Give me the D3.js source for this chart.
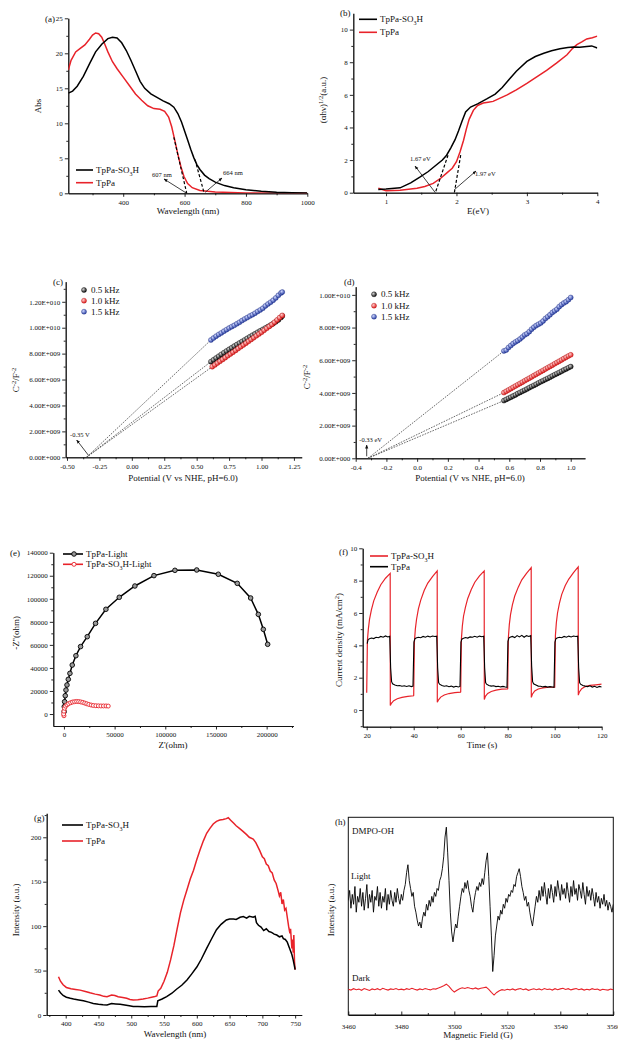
<!DOCTYPE html>
<html>
<head>
<meta charset="utf-8">
<script src="https://d3js.org/d3.v7.min.js"></script>
<style>
  body, html { margin: 0; padding: 0; background: #fff; }
  text { font-family: "Liberation Serif", "DejaVu Serif", serif; fill: #111; }
  .tick text { font-size: 7px; }
  .axis path, .axis line { stroke: #111; stroke-width: 0.9px; }
  .title { font-size: 9px; }
  .leg { font-size: 9px; }
  .note { font-size: 6.5px; }
</style>
</head>
<body>
<div id="chart"></div>
<script>
// ---------- data ----------
// (a) UV-vis absorbance [wavelength nm, Abs]
const aSO3H = [[221,14.3],[235,14.6],[250,15.3],[270,16.7],[290,18.5],[310,20.2],[330,21.3],[350,22.1],[365,22.3],[380,22.2],[395,21.5],[410,20.4],[425,19.0],[440,17.5],[455,16.0],[470,15.0],[490,14.2],[510,13.7],[530,13.2],[550,12.8],[565,12.3],[578,11.4],[590,10.2],[600,8.9],[610,7.6],[620,6.3],[630,5.1],[640,4.1],[650,3.4],[665,2.6],[680,2.1],[700,1.6],[730,1.1],[760,0.8],[800,0.5],[850,0.3],[900,0.15],[950,0.08],[1000,0.05]];
const aTpPa = [[221,17.6],[230,19.0],[245,20.2],[260,20.7],[275,21.2],[290,22.0],[300,22.6],[310,22.9],[320,22.8],[330,22.3],[340,21.3],[350,20.2],[365,18.8],[380,17.8],[400,16.6],[420,15.4],[440,14.2],[460,13.3],[480,12.5],[500,12.1],[520,12.0],[535,11.7],[548,10.9],[558,9.5],[568,7.6],[578,5.6],[588,3.8],[598,2.4],[610,1.4],[625,0.8],[650,0.4],[700,0.2],[800,0.05],[1000,0.0]];
const aTangentTpPa = [[565,8.0],[607,0]];
const aTangentSO3H = [[634,4.8],[664,0]];

// (b) Tauc plot [E eV, (ahv)^1/2]
const bSO3H = [[0.89,0.2],[1.0,0.22],[1.2,0.3],[1.35,0.6],[1.48,0.95],[1.6,1.3],[1.7,1.65],[1.8,2.0],[1.86,2.3],[1.92,2.75],[1.98,3.25],[2.03,3.8],[2.08,4.4],[2.13,4.95],[2.2,5.25],[2.3,5.45],[2.43,5.75],[2.55,6.05],[2.65,6.45],[2.75,6.95],[2.85,7.45],[3.0,8.05],[3.12,8.35],[3.24,8.55],[3.35,8.7],[3.47,8.82],[3.58,8.9],[3.66,8.93],[3.75,8.92],[3.85,8.97],[3.92,9.0],[4.0,8.87]];
const bTpPa = [[0.89,0.27],[1.0,0.12],[1.2,0.15],[1.44,0.27],[1.55,0.38],[1.67,0.57],[1.78,0.9],[1.86,1.2],[1.94,1.5],[2.0,1.9],[2.05,2.5],[2.1,3.2],[2.14,3.9],[2.18,4.5],[2.24,5.05],[2.3,5.35],[2.38,5.5],[2.45,5.55],[2.52,5.6],[2.62,5.8],[2.72,6.0],[2.85,6.3],[3.0,6.7],[3.14,7.1],[3.28,7.5],[3.42,7.95],[3.57,8.46],[3.65,8.85],[3.71,9.08],[3.78,9.25],[3.85,9.43],[3.93,9.5],[4.0,9.6]];
const bTangentSO3H = [[1.88,2.3],[1.70,0]];
const bTangentTpPa = [[2.06,2.3],[1.97,0]];

// (c) Mott-Schottky TpPa-SO3H [V vs NHE, C^-2 in 1e9]
const c05 = [[0.61,7.38],[0.63,7.52],[0.65,7.66],[0.67,7.80],[0.69,7.94],[0.71,8.07],[0.73,8.20],[0.75,8.33],[0.77,8.45],[0.79,8.58],[0.81,8.70],[0.83,8.82],[0.85,8.94],[0.87,9.06],[0.89,9.18],[0.91,9.30],[0.93,9.42],[0.95,9.53],[0.97,9.65],[0.99,9.76],[1.01,9.87],[1.03,9.98],[1.05,10.09],[1.07,10.2],[1.09,10.32],[1.11,10.45],[1.13,10.6],[1.15,10.78],[1.16,10.9]];
const c10 = [[0.62,6.99],[0.64,7.13],[0.66,7.27],[0.68,7.41],[0.70,7.55],[0.72,7.69],[0.74,7.83],[0.76,7.97],[0.78,8.11],[0.80,8.25],[0.82,8.39],[0.84,8.53],[0.86,8.67],[0.88,8.81],[0.90,8.95],[0.92,9.09],[0.94,9.23],[0.96,9.37],[0.98,9.51],[1.00,9.65],[1.02,9.80],[1.04,9.95],[1.06,10.1],[1.08,10.25],[1.10,10.42],[1.12,10.6],[1.14,10.78],[1.16,10.95]];
const c15 = [[0.61,9.05],[0.63,9.2],[0.65,9.35],[0.67,9.48],[0.69,9.6],[0.71,9.73],[0.73,9.85],[0.75,9.97],[0.77,10.08],[0.79,10.18],[0.81,10.3],[0.83,10.42],[0.85,10.55],[0.87,10.67],[0.89,10.78],[0.91,10.9],[0.93,11.0],[0.95,11.12],[0.97,11.25],[0.99,11.37],[1.01,11.5],[1.03,11.68],[1.05,11.83],[1.07,11.97],[1.09,12.12],[1.11,12.3],[1.13,12.5],[1.15,12.68],[1.16,12.75]];
const cIntercept = -0.35;

// (d) Mott-Schottky TpPa
const d05 = [[0.565,3.53],[0.58,3.60],[0.595,3.67],[0.61,3.74],[0.625,3.81],[0.64,3.88],[0.655,3.96],[0.67,4.03],[0.685,4.10],[0.70,4.17],[0.715,4.24],[0.73,4.32],[0.745,4.39],[0.76,4.46],[0.775,4.53],[0.79,4.61],[0.805,4.68],[0.82,4.75],[0.835,4.82],[0.85,4.89],[0.865,4.96],[0.88,5.04],[0.895,5.11],[0.91,5.18],[0.925,5.25],[0.94,5.32],[0.955,5.40],[0.97,5.47],[0.985,5.54],[1.0,5.61]];
const d10 = [[0.565,4.02],[0.58,4.10],[0.595,4.18],[0.61,4.26],[0.625,4.34],[0.64,4.42],[0.655,4.50],[0.67,4.58],[0.685,4.66],[0.70,4.74],[0.715,4.82],[0.73,4.90],[0.745,4.98],[0.76,5.06],[0.775,5.14],[0.79,5.22],[0.805,5.30],[0.82,5.38],[0.835,5.46],[0.85,5.54],[0.865,5.62],[0.88,5.70],[0.895,5.78],[0.91,5.86],[0.925,5.94],[0.94,6.02],[0.955,6.10],[0.97,6.18],[0.985,6.26],[1.0,6.33]];
const d15 = [[0.565,6.57],[0.58,6.62],[0.595,6.78],[0.61,6.90],[0.625,7.02],[0.64,7.12],[0.655,7.20],[0.67,7.30],[0.685,7.42],[0.70,7.55],[0.715,7.62],[0.73,7.75],[0.745,7.90],[0.76,8.02],[0.775,8.12],[0.79,8.20],[0.805,8.28],[0.82,8.40],[0.835,8.55],[0.85,8.66],[0.865,8.78],[0.88,8.92],[0.895,9.02],[0.91,9.12],[0.925,9.28],[0.94,9.40],[0.955,9.50],[0.97,9.58],[0.985,9.70],[1.0,9.84]];
const dIntercept = -0.32;

// (e) Nyquist [Z' ohm, -Z'' ohm]
const eTpPa = [[200,2000],[330,6400],[660,10700],[1300,15900],[2000,20800],[3000,25200],[4300,30100],[5900,35300],[8200,42500],[11800,50600],[16400,58500],[23000,67100],[31200,78700],[41400,90900],[54600,101300],[70000,111100],[88800,120100],[109500,124700],[131000,125000],[152300,121300],[171000,113400],[184200,100700],[191800,86500],[196700,73500],[201000,60500]];
const eSO3H = [[0,-1500],[-300,0],[0,2500],[600,5000],[1600,6800],[3000,8000],[4600,9000],[6600,9800],[8500,10400],[10500,10700],[12500,10900],[14500,10800],[16500,10500],[18500,10100],[20500,9500],[22500,8900],[24500,8300],[26800,7800],[29000,7400],[31500,7200],[34000,7100],[36500,7000],[39000,7000],[41500,7000],[43700,6900]];

// (f) photocurrent [time s, mA/cm2]
const fSO3H = [[20,1.07],[20.3,4.3],[20.7,5.0],[21.2,5.6],[22,6.2],[23,6.75],[24.5,7.3],[26,7.75],[28,8.15],[30,8.45],
  [30.05,0.28],[30.5,0.42],[31.5,0.58],[33,0.7],[35,0.78],[37.5,0.84],[39.95,0.88],
  [40,0.9],[40.3,4.2],[40.7,5.0],[41.2,5.6],[42,6.25],[43,6.8],[44.5,7.4],[46,7.85],[48,8.25],[50,8.6],
  [50.05,0.48],[50.5,0.62],[51.5,0.8],[53,0.93],[55,1.02],[57.5,1.08],[59.95,1.11],
  [60,1.12],[60.3,4.4],[60.7,5.2],[61.2,5.8],[62,6.35],[63,6.9],[64.5,7.45],[66,7.9],[68,8.3],[70,8.6],
  [70.05,0.65],[70.5,0.85],[71.5,1.03],[73,1.15],[75,1.23],[77.5,1.29],[79.95,1.31],
  [80,1.32],[80.3,4.5],[80.7,5.3],[81.2,5.9],[82,6.5],[83,7.05],[84.5,7.6],[86,8.05],[88,8.45],[90,8.8],
  [90.05,0.78],[90.5,0.98],[91.5,1.18],[93,1.3],[95,1.37],[97.5,1.41],[99.95,1.42],
  [100,1.42],[100.3,4.6],[100.7,5.4],[101.2,6.0],[102,6.6],[103,7.15],[104.5,7.7],[106,8.1],[108,8.5],[110,8.85],
  [110.05,0.92],[110.5,1.12],[111.5,1.32],[113,1.45],[115,1.52],[117.5,1.56],[120,1.6]];
const fTpPa = [[20.2,4.1],[20.6,4.35],[21,4.4],[22,4.45],[23,4.42],[24,4.5],[25,4.47],[26,4.55],[27,4.5],[28,4.58],[29,4.52],[29.8,4.56],[30.2,2.6],[30.6,1.75],[31,1.62],[32,1.55],[33,1.5],[34,1.52],[35,1.47],[36,1.5],[37,1.46],[38,1.5],[39,1.45],[39.7,1.48],
  [40.1,4.2],[40.5,4.4],[41,4.45],[42,4.5],[43,4.47],[44,4.55],[45,4.5],[46,4.57],[47,4.52],[48,4.58],[49,4.55],[49.8,4.57],[50.2,2.6],[50.6,1.7],[51,1.6],[52,1.52],[53,1.47],[54,1.5],[55,1.44],[56,1.48],[57,1.42],[58,1.47],[59,1.43],[59.7,1.46],
  [60.1,4.2],[60.5,4.38],[61,4.42],[62,4.48],[63,4.45],[64,4.52],[65,4.5],[66,4.56],[67,4.5],[68,4.57],[69,4.53],[69.8,4.56],[70.2,2.6],[70.6,1.7],[71,1.6],[72,1.52],[73,1.48],[74,1.5],[75,1.45],[76,1.47],[77,1.43],[78,1.46],[79,1.42],[79.7,1.4],
  [80.1,4.25],[80.5,4.45],[81,4.5],[82,4.55],[83,4.48],[84,4.6],[85,4.52],[86,4.62],[87,4.5],[88,4.6],[89,4.55],[89.8,4.6],[90.2,2.7],[90.6,1.75],[91,1.62],[92,1.55],[93,1.48],[94,1.47],[95,1.43],[96,1.46],[97,1.42],[98,1.45],[99,1.42],[99.7,1.4],
  [100.1,4.2],[100.5,4.4],[101,4.45],[102,4.5],[103,4.47],[104,4.55],[105,4.5],[106,4.57],[107,4.52],[108,4.58],[109,4.55],[109.8,4.57],[110.2,2.6],[110.6,1.7],[111,1.6],[112,1.52],[113,1.48],[114,1.45],[115,1.5],[116,1.42],[117,1.47],[118,1.4],[119,1.46],[120,1.42]];

// (g) PL spectra [wavelength nm, intensity]
const gTpPa = [[389,43],[392,38],[396,34],[401,31],[408,29.5],[415,28.8],[422,28],[430,26.5],[437,25],[445,23.5],[452,22.5],[458,21],[463,20.6],[470,22.5],[475,22],[480,20.5],[487,19.8],[493,18.8],[498,17.5],[503,16.9],[510,17.2],[518,18],[525,19],[531,20],[536,20.8],[539,21.4],[541,27],[545,30],[550,38],[555,48],[560,62],[565,78],[570,97],[575,115],[580,129],[585,141],[590,153],[595,163],[600,175],[605,186],[610,196],[615,204.5],[620,210],[625,215],[630,218],[635,219.5],[640,220],[645,221],[648,222],[652,219],[656,216],[660,213],[665,210],[670,207],[676,203],[680,200],[686,198],[690,194],[696,185],[700,178],[703,176],[706,170],[709,168],[712,162],[715,160],[718,152],[721,148],[724,140],[726,134],[728,138],[730,125],[732,130],[734,118],[736,120],[738,110],[740,100],[742,92],[743,97],[745,75],[746,85],[747,70],[748,90],[749,60],[750,51]];
const gSO3H = [[389,28],[392,25],[396,22],[401,20],[407,18.8],[412,18],[420,17],[427,16],[435,14.5],[442,13],[450,12],[457,11.5],[463,11.3],[470,13],[476,12.5],[483,12],[490,11.2],[497,10.5],[503,9.6],[510,9.5],[520,9.4],[530,9.5],[539,9.6],[540.5,16],[547,18],[554,20.6],[562,24.5],[569,29],[577,33.5],[585,39.4],[592,46],[600,54],[607,63],[615,75],[622,85],[630,96],[637,102],[645,107],[650,108],[656,108],[660,107.5],[666,110],[671,110.7],[676,109],[680,111],[686,110],[689,111],[691,104],[694,101],[698,99],[702,95],[706,97],[710,94],[714,93],[718,91],[722,90],[726,88],[730,89],[732,86],[735,85],[738,82],[741,76],[743,72],[745,68],[747,62],[750,51]];

// (h) EPR DMPO-OH, sampled from 3460 G every 0.5 G (light) and every 1 G (dark)
const hFieldStart = 3460;
const hLightStep = 0.5;
const hLight = [58,63,54,61,56,65,52,60,57,64,55,62,53,59,66,54,61,57,63,52,60,58,65,55,62,54,60,57,64,53,61,56,63,58,55,62,57,64,59,56,61,58,63,
  66,72,76,68,64,60,62,55,52,48,45,47,44,49,52,50,56,53,58,55,60,57,62,60,64,63,68,70,74,80,
  90,95,82,68,52,42,37,42,46,44,50,55,60,64,62,67,64,68,63,60,55,52,58,62,65,63,67,65,69,66,
  72,78,82,70,55,40,22,30,40,45,50,48,53,51,56,54,59,57,61,60,63,62,66,65,70,72,74,70,65,62,
  58,60,55,57,52,48,45,50,55,60,57,
  63,58,65,60,67,61,56,64,59,66,62,57,65,60,68,63,58,66,61,64,59,67,62,57,65,60,68,61,64,58,66,63,59,67,61,56,65,60,63,58,64,60,55,62,57,60,54,59,56,61,55,58,53,57,55,52,56];
const hDarkStep = 1;
const hDark = [13,12.6,13.3,12.8,13.1,12.5,13.4,12.9,12.4,13.2,12.8,13.3,12.7,13.5,13,12.6,13.2,12.9,13.4,12.8,
  13.1,12.7,13.3,12.9,13.5,13,12.6,13.2,12.8,13.4,13,12.7,13.3,13.1,13.6,14.2,14.8,15.6,14.5,12.8,
  11.6,12.5,13.3,13.8,13.4,13.9,13.5,13.2,13.7,13.1,13.5,13.8,14.1,13,11.5,10.1,11.4,12.3,12.8,12.5,
  13,12.7,13.2,12.6,13.1,13.4,12.8,13.2,12.5,12.9,13.3,12.8,13.2,12.7,13.4,12.9,13.1,12.6,13.3,12.8,
  13.2,13.5,12.9,13.3,12.7,13.1,13.4,12.8,13.2,12.6,13,12.7,13.3,12.9,13.1,12.5,13,12.8,12.6,13.1,12.8];

// ---------- drawing ----------
const RED = "#e8232a", BLUE = "#3b4fb0";
const svg = d3.select("#chart").append("svg").attr("width", 618).attr("height", 1042);
svg.append("rect").attr("width", 618).attr("height", 1042).attr("fill", "#fff");
const defs = svg.append("defs");

function sphere(id, light, dark) {
  const gr = defs.append("radialGradient").attr("id", id).attr("cx", "35%").attr("cy", "35%").attr("r", "65%");
  gr.append("stop").attr("offset", "0%").attr("stop-color", light);
  gr.append("stop").attr("offset", "100%").attr("stop-color", dark);
}
sphere("sBlack", "#d8d8d8", "#111");
sphere("sRed", "#ffd0d0", "#e02020");
sphere("sBlue", "#d0d8ff", "#2f45a8");

defs.append("marker").attr("id", "arrow").attr("viewBox", "0 0 10 10").attr("refX", 9).attr("refY", 5)
  .attr("markerWidth", 5).attr("markerHeight", 5).attr("orient", "auto-start-reverse")
  .append("path").attr("d", "M0,1L10,5L0,9Z").attr("fill", "#111");

let clipN = 0;
function panel(o) {
  const x = d3.scaleLinear().domain(o.xDomain).range(o.xRange);
  const y = d3.scaleLinear().domain(o.yDomain).range(o.yRange);
  const g = svg.append("g");
  const inward = o.inward ? -1 : 1;
  const x0 = o.xRange[0], y0 = o.yRange[0];
  if (o.box) {
    g.append("rect").attr("x", x0).attr("y", o.yRange[1]).attr("width", o.xRange[1] - x0)
      .attr("height", y0 - o.yRange[1]).attr("fill", "none").attr("stroke", "#111").attr("stroke-width", 1);
  }
  const xa = g.append("g").attr("class", "axis").attr("transform", `translate(0,${y0})`);
  xa.call(d3.axisBottom(x).tickValues(o.xMinor).tickSize(2 * inward).tickFormat("").tickSizeOuter(0));
  xa.append("g").call(d3.axisBottom(x).tickValues(o.xTicks).tickSize(3.5 * inward).tickPadding(o.inward ? 9 : 3)
    .tickFormat(o.xFmt || (d => d)).tickSizeOuter(0));
  if (o.yTicks) {
    const ya = g.append("g").attr("class", "axis").attr("transform", `translate(${x0},0)`);
    ya.call(d3.axisLeft(y).tickValues(o.yMinor).tickSize(2).tickFormat("").tickSizeOuter(0));
    ya.append("g").call(d3.axisLeft(y).tickValues(o.yTicks).tickSize(3.5).tickPadding(2)
      .tickFormat(o.yFmt || (d => d)).tickSizeOuter(0));
  }
  g.selectAll(".axis .domain").attr("stroke", "#111");
  const id = "clip" + (clipN++);
  defs.append("clipPath").attr("id", id).append("rect")
    .attr("x", x0).attr("y", o.yRange[1]).attr("width", o.xRange[1] - x0).attr("height", y0 - o.yRange[1]);
  const plot = g.append("g").attr("clip-path", `url(#${id})`);
  return { x, y, g, plot };
}

function lineOf(p) { return d3.line().x(d => p.x(d[0])).y(d => p.y(d[1])); }
function text(x, y, str, cls, anchor) {
  return svg.append("text").attr("x", x).attr("y", y).attr("class", cls || "title")
    .attr("text-anchor", anchor || "start").text(str);
}
function so3h(t, pre, post) {
  t.text(null);
  t.append("tspan").text(pre + "SO");
  t.append("tspan").attr("dy", 2.5).attr("font-size", "6px").text("3");
  t.append("tspan").attr("dy", -2.5).text("H" + (post || ""));
  return t;
}
// parts: [text, dy, small]
function ylabel(x, y, parts) {
  const t = svg.append("text").attr("class", "title").attr("text-anchor", "middle")
    .attr("transform", `translate(${x},${y}) rotate(-90)`);
  parts.forEach(p => {
    const s = t.append("tspan").text(p[0]);
    if (p[1]) s.attr("dy", p[1]);
    if (p[2]) s.attr("font-size", "6.5px");
  });
  return t;
}
function arrow(x1, y1, x2, y2) {
  svg.append("line").attr("x1", x1).attr("y1", y1).attr("x2", x2).attr("y2", y2)
    .attr("stroke", "#111").attr("stroke-width", 0.8).attr("marker-end", "url(#arrow)");
}
function legLine(x1, x2, y, color, str, sub) {
  svg.append("line").attr("x1", x1).attr("x2", x2).attr("y1", y).attr("y2", y)
    .attr("stroke", color).attr("stroke-width", 1.6);
  const t = text(x2 + 3, y + 3, str, "leg");
  if (sub) so3h(t, sub[0], sub[1]);
}

// ----- (a) -----
const pa = panel({ xDomain: [221, 1000], xRange: [68.3, 307.3], yDomain: [0, 25], yRange: [193.3, 18.3],
  xTicks: [400, 600, 800, 1000], xMinor: [300, 500, 700, 900],
  yTicks: [0, 5, 10, 15, 20, 25], yMinor: [2.5, 7.5, 12.5, 17.5, 22.5] });
pa.plot.append("path").attr("d", lineOf(pa)(aTpPa)).attr("fill", "none").attr("stroke", RED).attr("stroke-width", 1.5);
pa.plot.append("path").attr("d", lineOf(pa)(aSO3H)).attr("fill", "none").attr("stroke", "#000").attr("stroke-width", 1.5);
[aTangentTpPa, aTangentSO3H].forEach(t => pa.plot.append("path").attr("d", lineOf(pa)(t))
  .attr("fill", "none").attr("stroke", "#000").attr("stroke-width", 1.2).attr("stroke-dasharray", "3,2"));
text(45, 22, "(a)");
ylabel(41, 106, [["Abs"]]);
text(188, 214, "Wavelength (nm)", "title", "middle");
legLine(76, 93, 170, "#000", "", ["TpPa-", ""]);
legLine(76, 93, 182.7, RED, "TpPa");
text(152, 177, "607 nm", "note");
arrow(pa.x(607), pa.y(0), 164, 179);
text(223, 175, "664 nm", "note");
arrow(pa.x(664) + 1, pa.y(0) - 1, 222, 178);

// ----- (b) -----
const pb = panel({ xDomain: [0.535, 4], xRange: [353.3, 597.3], yDomain: [0, 11], yRange: [192.7, 13.3],
  xTicks: [1, 2, 3, 4], xMinor: [1.5, 2.5, 3.5],
  yTicks: [0, 2, 4, 6, 8, 10], yMinor: [1, 3, 5, 7, 9] });
pb.plot.append("path").attr("d", lineOf(pb)(bTpPa)).attr("fill", "none").attr("stroke", RED).attr("stroke-width", 1.5);
pb.plot.append("path").attr("d", lineOf(pb)(bSO3H)).attr("fill", "none").attr("stroke", "#000").attr("stroke-width", 1.5);
[bTangentSO3H, bTangentTpPa].forEach(t => pb.plot.append("path").attr("d", lineOf(pb)(t))
  .attr("fill", "none").attr("stroke", "#000").attr("stroke-width", 1.2).attr("stroke-dasharray", "3,2"));
text(340, 16, "(b)");
ylabel(326, 100, [["(αhν)"], ["1/2", -3, true], ["(a.u.)", 3]]);
text(478, 214, "E(eV)", "title", "middle");
legLine(359, 377, 19.3, "#000", "", ["TpPa-", ""]);
legLine(359, 377, 32.3, RED, "TpPa");
text(410, 160.7, "1.67 eV", "note");
arrow(pb.x(1.70), pb.y(0), 415, 166);
text(475, 175.7, "1.97 eV", "note");
arrow(pb.x(1.97), pb.y(0) - 3, 476, 171);

// ----- (c) & (d) Mott-Schottky -----
function sci(v) {
  if (v === 0) return "0.00E+000";
  const n = v * 1e9, e = Math.floor(Math.log10(n) + 1e-9);
  return (n / Math.pow(10, e)).toFixed(2) + "E+" + String(e).padStart(3, "0");
}
function mott(p, series, intercept) {
  series.forEach(s => p.plot.append("line")
    .attr("x1", p.x(intercept)).attr("y1", p.y(0)).attr("x2", p.x(s.data[0][0])).attr("y2", p.y(s.data[0][1]))
    .attr("stroke", "#444").attr("stroke-width", 0.8).attr("stroke-dasharray", "1.6,1.2"));
  series.forEach(s => p.plot.append("g").selectAll("circle").data(s.data).join("circle")
    .attr("cx", d => p.x(d[0])).attr("cy", d => p.y(d[1])).attr("r", 2.5)
    .attr("fill", s.fill).attr("stroke", s.stroke).attr("stroke-width", 0.4));
}
const kHzLabels = ["0.5 kHz", "1.0 kHz", "1.5 kHz"];
const sphereFill = ["url(#sBlack)", "url(#sRed)", "url(#sBlue)"];
const sphereStroke = ["#000", "#b01010", "#203080"];
const msLabel = [["C"], ["-2", -3, true], ["/F", 3], ["-2", -3, true]];

const pc = panel({ xDomain: [-0.51, 1.31], xRange: [65.7, 301.7], yDomain: [0, 13.55], yRange: [457.3, 281.7],
  xTicks: [-0.5, -0.25, 0, 0.25, 0.5, 0.75, 1, 1.25], xMinor: [-0.375, -0.125, 0.125, 0.375, 0.625, 0.875, 1.125],
  yTicks: [0, 2, 4, 6, 8, 10, 12], yMinor: [1, 3, 5, 7, 9, 11, 13], xFmt: d => d.toFixed(2), yFmt: sci });
mott(pc, [c05, c10, c15].map((d, i) => ({ data: d, fill: sphereFill[i], stroke: sphereStroke[i] })), cIntercept);
text(53, 285, "(c)");
ylabel(19, 380, msLabel);
text(183, 481, "Potential (V vs NHE, pH=6.0)", "title", "middle");
kHzLabels.forEach((l, i) => {
  const yy = [290, 300.7, 311.7][i];
  svg.append("circle").attr("cx", 84).attr("cy", yy).attr("r", 2.5).attr("fill", sphereFill[i]).attr("stroke", sphereStroke[i]).attr("stroke-width", 0.4);
  text(91, yy + 3, l, "leg");
});
text(70, 436.7, "-0.35 V", "note");
arrow(pc.x(cIntercept) + 2, pc.y(0) - 2, 76.7, 440);

const pd = panel({ xDomain: [-0.4, 1.093], xRange: [355.7, 585], yDomain: [0, 10.5], yRange: [458.3, 286.7],
  xTicks: [-0.4, -0.2, 0, 0.2, 0.4, 0.6, 0.8, 1.0], xMinor: [-0.3, -0.1, 0.1, 0.3, 0.5, 0.7, 0.9],
  yTicks: [0, 2, 4, 6, 8, 10], yMinor: [1, 3, 5, 7, 9], xFmt: d => d.toFixed(1), yFmt: sci });
mott(pd, [d05, d10, d15].map((d, i) => ({ data: d, fill: sphereFill[i], stroke: sphereStroke[i] })), dIntercept);
text(344, 285, "(d)");
ylabel(310, 377, msLabel);
text(470, 481, "Potential (V vs NHE, pH=6.0)", "title", "middle");
kHzLabels.forEach((l, i) => {
  const yy = [294.3, 305.7, 316.7][i];
  svg.append("circle").attr("cx", 374).attr("cy", yy).attr("r", 2.5).attr("fill", sphereFill[i]).attr("stroke", sphereStroke[i]).attr("stroke-width", 0.4);
  text(381, yy + 3, l, "leg");
});
text(359.3, 441.7, "-0.33 eV", "note");
arrow(366.7, pd.y(0) - 2, 366.7, 445);

// ----- (e) -----
const pe = panel({ xDomain: [-10500, 226300], xRange: [53.3, 293.3], yDomain: [-10400, 140000], yRange: [726, 552.7],
  xTicks: [0, 50000, 100000, 150000, 200000], xMinor: [25000, 75000, 125000, 175000, 225000],
  yTicks: [0, 20000, 40000, 60000, 80000, 100000, 120000, 140000], yMinor: [10000, 30000, 50000, 70000, 90000, 110000, 130000] });
pe.plot.append("path").attr("d", lineOf(pe)(eTpPa)).attr("fill", "none").attr("stroke", "#000").attr("stroke-width", 1.5);
pe.plot.append("g").selectAll("circle").data(eTpPa).join("circle")
  .attr("cx", d => pe.x(d[0])).attr("cy", d => pe.y(d[1])).attr("r", 2.3)
  .attr("fill", "#9a9a9a").attr("stroke", "#000").attr("stroke-width", 0.9);
pe.plot.append("path").attr("d", lineOf(pe)(eSO3H)).attr("fill", "none").attr("stroke", RED).attr("stroke-width", 1.2);
pe.plot.append("g").selectAll("circle").data(eSO3H).join("circle")
  .attr("cx", d => pe.x(d[0])).attr("cy", d => pe.y(d[1])).attr("r", 2)
  .attr("fill", "#fff").attr("stroke", RED).attr("stroke-width", 0.9);
text(10, 556, "(e)");
ylabel(19, 633, [["-Z''(ohm)"]]);
text(173, 748, "Z'(ohm)", "title", "middle");
legLine(63, 83, 554, "#000", "TpPa-Light");
svg.append("circle").attr("cx", 74).attr("cy", 554).attr("r", 2.3).attr("fill", "#9a9a9a").attr("stroke", "#000").attr("stroke-width", 0.9);
legLine(63, 83, 564.3, RED, "", ["TpPa-", "-Light"]);
svg.append("circle").attr("cx", 74).attr("cy", 564.3).attr("r", 2).attr("fill", "#fff").attr("stroke", RED).attr("stroke-width", 0.9);

// ----- (f) -----
const pf = panel({ xDomain: [18.3, 120], xRange: [362.7, 601.7], yDomain: [-1.03, 10], yRange: [726.7, 548.3],
  xTicks: [20, 40, 60, 80, 100, 120], xMinor: [30, 50, 70, 90, 110],
  yTicks: [0, 2, 4, 6, 8, 10], yMinor: [-1, 1, 3, 5, 7, 9] });
pf.plot.append("path").attr("d", lineOf(pf)(fSO3H)).attr("fill", "none").attr("stroke", RED).attr("stroke-width", 1.2);
pf.plot.append("path").attr("d", lineOf(pf)(fTpPa)).attr("fill", "none").attr("stroke", "#000").attr("stroke-width", 1.1);
text(339, 555, "(f)");
ylabel(342, 640, [["Current density (mA/cm"], ["2", -3, true], [")", 3]]);
text(482, 748, "Time (s)", "title", "middle");
legLine(370, 388, 556, RED, "", ["TpPa-", ""]);
legLine(370, 388, 566.7, "#000", "TpPa");

// ----- (g) -----
const pg = panel({ xDomain: [371, 760], xRange: [46.7, 301.7], yDomain: [0, 227], yRange: [1015, 813.3],
  xTicks: [400, 450, 500, 550, 600, 650, 700, 750], xMinor: [375, 425, 475, 525, 575, 625, 675, 725],
  yTicks: [0, 50, 100, 150, 200], yMinor: [25, 75, 125, 175, 225] });
pg.plot.append("path").attr("d", lineOf(pg)(gTpPa)).attr("fill", "none").attr("stroke", RED).attr("stroke-width", 1.5);
pg.plot.append("path").attr("d", lineOf(pg)(gSO3H)).attr("fill", "none").attr("stroke", "#000").attr("stroke-width", 1.5);
text(34, 821, "(g)");
ylabel(19, 910, [["Intensity (a.u.)"]]);
text(175, 1037, "Wavelength (nm)", "title", "middle");
legLine(62, 83, 825, "#000", "", ["TpPa-", ""]);
legLine(62, 83, 841, RED, "TpPa");

// ----- (h) -----
const ph = panel({ xDomain: [3460, 3560], xRange: [348.3, 613.3], yDomain: [0, 100], yRange: [1015, 817.3],
  xTicks: [3460, 3480, 3500, 3520, 3540, 3560], xMinor: [3470, 3490, 3510, 3530, 3550], box: true, inward: true });
const hLightPts = hLight.map((v, i) => [hFieldStart + i * hLightStep, v]);
const hDarkPts = hDark.map((v, i) => [hFieldStart + i * hDarkStep, v]);
ph.plot.append("path").attr("d", lineOf(ph)(hDarkPts)).attr("fill", "none").attr("stroke", RED).attr("stroke-width", 1.1);
ph.plot.append("path").attr("d", lineOf(ph)(hLightPts)).attr("fill", "none").attr("stroke", "#000").attr("stroke-width", 0.9);
text(335, 825, "(h)");
text(352, 834, "DMPO-OH", "leg");
text(351, 879, "Light", "leg");
text(352, 981, "Dark", "leg");
ylabel(334, 910, [["Intensity (a.u.)"]]);
text(478, 1038, "Magnetic Field (G)", "title", "middle");
</script>
</body>
</html>
